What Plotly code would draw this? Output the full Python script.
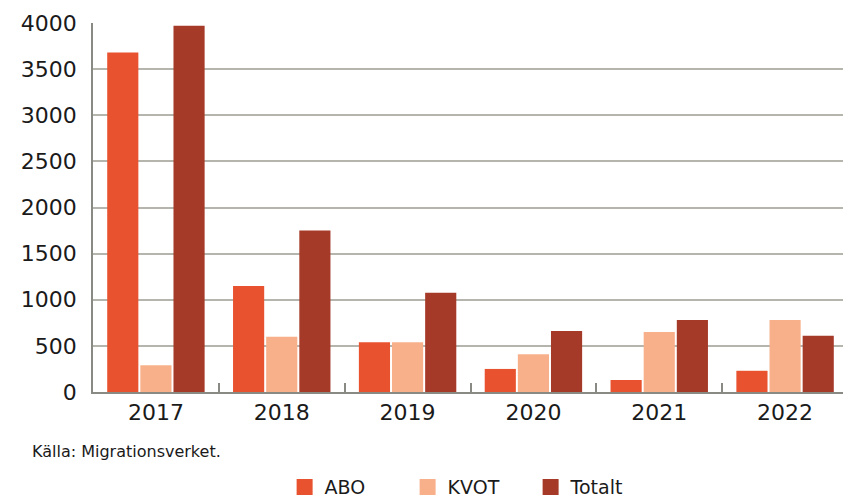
import plotly.graph_objects as go

# Data
years = ["2017", "2018", "2019", "2020", "2021", "2022"]
abo = [3680, 1150, 540, 250, 130, 230]
kvot = [290, 600, 540, 410, 650, 780]
totalt = [3970, 1750, 1075, 660, 780, 610]

colors = {"ABO": "#E8522E", "KVOT": "#F7B08A", "Totalt": "#A63A28"}
font_family = "DejaVu Sans, sans-serif"

fig = go.Figure()
for name, vals in [("ABO", abo), ("KVOT", kvot), ("Totalt", totalt)]:
    fig.add_trace(go.Bar(x=years, y=vals, name=name, marker_color=colors[name],
                         marker_line_width=0, showlegend=False))

# legend entries with larger square swatches
for name in ["ABO", "KVOT", "Totalt"]:
    fig.add_trace(go.Scatter(x=[None], y=[None], mode="markers", name=name,
                             marker=dict(symbol="square", size=24, color=colors[name])))

# page body has an 8px margin, so the figure is sized to fit inside the window
fig.update_layout(
    width=843, height=494,
    margin=dict(l=85, r=3, t=15, b=110),
    paper_bgcolor="white", plot_bgcolor="white",
    font=dict(family=font_family, color="#1a1a1a"),
    barmode="group", bargap=0.21, bargroupgap=0.06,
    showlegend=True,
    legend=dict(orientation="h", x=0.547, xanchor="center", xref="container",
                y=0.03, yanchor="middle", yref="container",
                font=dict(size=19), itemwidth=30, entrywidth=78,
                traceorder="normal"),
    annotations=[dict(text="Källa: Migrationsverket.", xref="paper", yref="paper",
                      x=-0.0834, y=-0.1626, xanchor="left", yanchor="middle",
                      showarrow=False, font=dict(size=16))],
)
fig.update_yaxes(range=[0, 4000], dtick=500, showgrid=True, gridcolor="#b5b5ae",
                 gridwidth=1.5, showline=True, linecolor="#8a8a85", linewidth=1.5,
                 tickfont=dict(size=22), ticks="", zeroline=False,
                 ticklabelstandoff=10, automargin=False)
fig.update_xaxes(showline=True, linecolor="#8a8a85", linewidth=2,
                 ticks="inside", tickson="boundaries", ticklen=9, tickcolor="#8a8a85",
                 tickwidth=1.5, tickfont=dict(size=22), ticklabelstandoff=0,
                 automargin=False)

fig.write_html("out.html")
